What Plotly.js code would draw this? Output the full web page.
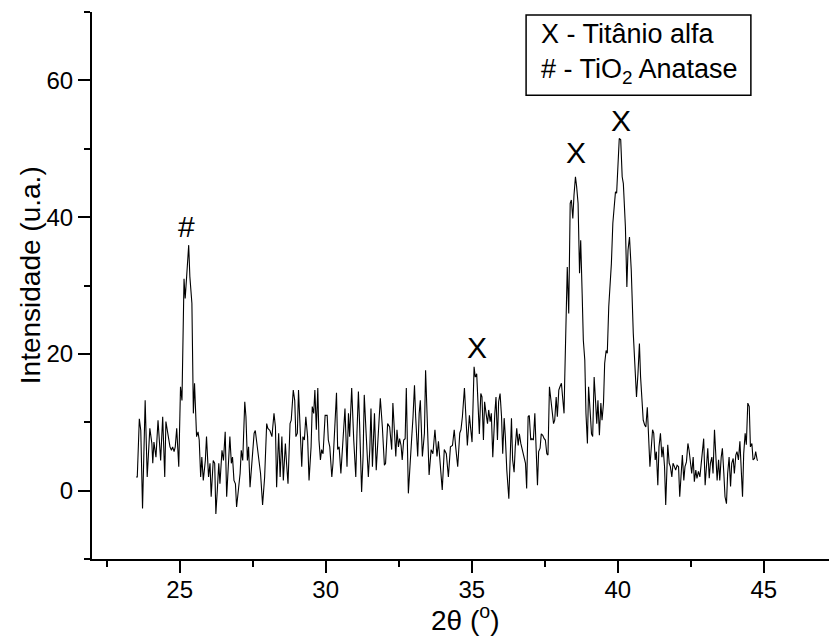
<!DOCTYPE html>
<html><head><meta charset="utf-8">
<script src="https://cdn.plot.ly/plotly-3.0.1.min.js"></script>
<style>html,body{margin:0;padding:0;background:#fff}#chart{width:829px;height:637px}</style>
</head><body><div id="chart"></div>
<script>
// 2θ (degrees) and intensity (u.a.), in four segments
const theta1 = [23.51,23.55,23.62,23.67,23.73,23.82,23.89,23.98,24.05,24.08,
24.12,24.19,24.26,24.30,24.35,24.42,24.49,24.53,24.60,24.67,
24.72,24.76,24.81,24.85,24.90,24.97,25.03,25.08,25.15,25.19,
25.24,25.31,25.35,25.42,25.47,25.51,25.58,25.63,25.67,25.72,
25.76,25.81,25.88,25.92,25.99,26.04,26.08,26.15,26.20,26.24,
26.29,26.34,26.38,26.45,26.50,26.56,26.61,26.68,26.72,26.77,
26.81,26.86,26.91,26.95,27.02,27.07,27.11,27.16,27.23,27.27,
27.32,27.36,27.41,27.48,27.55,27.59,27.66,27.70,27.77,27.84,
27.91,27.98,28.02,28.09,28.16,28.23,28.28,28.32,28.39,28.44,
28.50,28.55,28.62,28.66,28.71,28.78,28.82,28.89,28.94,28.98,
29.03,29.07];
const int1 = [2.0,2.0,10.5,8.8,-2.6,13.2,2.0,9.1,6.9,4.0,
7.1,4.9,10.3,6.9,4.4,10.8,2.0,10.1,7.9,6.4,
5.9,6.4,5.7,6.4,9.1,3.5,15.2,13.2,31.0,28.1,
31.3,35.9,31.3,27.4,11.3,15.7,7.9,8.6,7.4,2.0,
4.9,1.5,4.4,7.9,2.0,4.0,-0.9,4.4,4.0,-3.4,
0.1,4.0,1.0,5.9,4.4,8.6,-0.9,6.4,7.9,4.0,
4.9,1.5,1.0,-2.4,0.5,2.5,5.9,4.4,13.0,10.8,
4.4,6.4,0.5,4.9,8.4,8.8,6.4,4.4,2.5,-2.1,
2.0,9.8,9.1,8.8,7.9,11.3,9.3,0.5,8.4,2.0,
7.9,1.5,6.9,4.0,1.0,9.8,10.3,14.7,13.2,7.9,
8.4,14.7];

const theta2 = [29.18,29.22,29.27,29.32,29.36,29.38,29.43,29.50,29.54,29.59,
29.63,29.68,29.73,29.77,29.82,29.86,29.91,29.98,30.05,30.09,
30.14,30.21,30.25,30.30,30.37,30.41,30.46,30.52,30.57,30.66,
30.73,30.78,30.82,30.89,30.96,31.03,31.07,31.12,31.16,31.23,
31.28,31.32,31.39,31.46,31.51,31.55,31.60,31.67,31.73,31.80,
31.87,31.94,32.01,32.05,32.12,32.19,32.26,32.30,32.35,32.40,
32.44,32.49,32.53,32.58,32.62,32.67,32.72,32.76,32.83,32.90,
32.94,32.99,33.04,33.08,33.15,33.20,33.24,33.31,33.38,33.42,
33.47,33.54,33.61,33.67,33.74,33.81,33.86,33.93,33.99,34.06,
34.13,34.20,34.27,34.34,34.40,34.45,34.52,34.59,34.63,34.68,
34.75];
const int2 = [3.5,7.9,7.4,10.8,8.9,7.9,1.5,6.4,12.3,11.3,
14.7,8.9,15.0,7.4,4.5,6.0,5.4,11.0,11.0,7.4,
6.4,2.0,4.0,9.3,14.3,6.0,6.4,2.5,6.4,12.0,
3.5,11.3,7.9,15.0,7.4,2.0,8.4,14.5,9.8,-0.2,
5.0,14.0,7.9,2.0,6.0,12.0,3.5,11.3,3.0,7.9,
13.5,9.3,3.7,4.0,9.8,9.3,6.0,12.8,9.3,5.0,
8.9,6.4,7.6,6.6,4.5,7.4,7.6,15.0,-0.4,6.0,
7.4,10.8,15.4,10.8,5.0,11.3,13.2,5.0,8.4,17.6,
10.8,2.3,6.0,5.4,8.9,5.0,7.2,3.5,0.1,6.0,
5.4,2.0,6.4,6.6,8.9,6.4,3.5,8.4,8.9,10.8,
15.0];

const theta3 = [34.85,34.92,34.97,35.01,35.08,35.12,35.17,35.22,35.26,35.31,
35.35,35.40,35.44,35.49,35.54,35.58,35.63,35.67,35.72,35.79,
35.83,35.88,35.92,35.97,36.02,36.06,36.11,36.15,36.20,36.27,
36.31,36.36,36.40,36.45,36.49,36.54,36.59,36.63,36.68,36.72,
36.79,36.84,36.88,36.93,36.97,37.02,37.06,37.11,37.16,37.20,
37.25,37.29,37.34,37.38,37.43,37.48,37.52,37.57,37.61,37.66,
37.70,37.75,37.80,37.84,37.89,37.93,37.98,38.02,38.07,38.11,
38.16,38.18,38.23,38.27,38.32,38.37,38.41,38.46,38.50,38.55,
38.59,38.64,38.69,38.73,38.78,38.82,38.87,38.91,38.96,39.00,
39.05,39.10,39.14,39.19,39.23,39.28,39.32,39.37,39.42,39.46,
39.51,39.55,39.60,39.64,39.69,39.74,39.78,39.83,39.87,39.92,
39.96,40.01,40.05,40.10,40.15,40.19,40.26,40.31,40.35,40.40];
const int3 = [6.6,11.0,8.8,7.1,18.1,16.6,17.1,12.5,8.3,14.2,
13.7,7.4,13.0,11.3,9.8,11.8,10.1,11.3,4.9,11.3,
13.7,7.4,13.0,14.2,10.8,5.4,10.6,7.9,3.0,-1.2,
3.5,10.6,4.5,2.7,6.4,9.1,6.6,8.3,6.9,6.2,
4.9,4.0,0.3,10.8,11.0,7.4,7.6,7.4,11.3,5.4,
0.8,5.7,6.2,8.3,8.1,7.6,7.4,5.4,5.2,15.2,
13.7,11.3,9.8,10.3,13.7,10.8,14.7,15.2,15.7,13.7,
11.3,15.7,26.9,32.7,25.9,42.0,42.5,39.8,43.2,45.9,
44.5,42.0,31.8,36.6,28.8,22.0,19.1,11.3,6.9,15.2,
11.8,8.3,7.9,16.6,13.7,9.8,13.2,8.1,12.8,10.3,
12.8,18.6,20.5,20.1,26.9,29.8,33.2,39.1,41.5,43.7,
43.5,47.9,51.5,51.3,45.9,44.9,38.6,29.8,35.2,37.1];

const theta4 = [40.46,40.53,40.58,40.62,40.64,40.69,40.74,40.78,40.83,40.87,
40.92,40.96,41.01,41.05,41.10,
41.19,41.23,41.28,41.32,41.37,41.41,41.46,41.51,41.55,41.60,
41.64,41.71,41.76,41.80,41.85,41.89,41.94,41.98,42.03,42.08,
42.12,42.17,42.21,42.26,42.30,42.35,42.40,42.44,42.49,42.53,
42.58,42.62,42.67,42.71,42.76,42.81,42.85,42.90,42.94,42.99,
43.03,43.08,43.13,43.17,43.22,43.26,43.31,43.35,43.40,43.45,
43.49,43.54,43.58,43.63,43.67,43.72,43.76,43.81,43.86,43.90,
43.95,43.99,44.04,44.08,44.13,44.18,44.22,44.27,44.31,44.36,
44.40,44.45,44.50,44.54,44.59,44.63,44.68,44.72,44.77,44.79];
const int4 = [32.3,23.0,18.1,16.6,13.7,17.1,21.5,16.6,12.7,10.3,
9.6,9.3,12.2,8.4,3.5,
8.9,8.4,4.5,5.7,0.8,6.4,8.4,4.9,6.4,3.5,
-2.1,6.7,4.0,3.5,2.0,4.0,3.5,3.0,3.7,3.5,
-0.9,2.5,5.2,1.5,3.5,4.2,6.9,5.9,3.5,2.5,
4.9,1.3,3.0,1.8,2.8,2.0,3.7,5.9,7.6,0.8,
3.0,6.2,1.8,4.0,4.9,2.5,8.9,5.4,1.5,4.5,
1.5,4.9,6.2,2.5,-0.9,-1.9,2.5,4.9,0.6,4.0,
4.7,2.5,5.2,5.7,4.5,7.2,4.0,-0.9,5.4,8.4,
6.7,12.8,12.3,6.4,6.9,4.5,4.7,5.7,4.5,4.4];

// Phase markers, legend and axis title text
const peakLabels = ['#', 'X', 'X', 'X'];
const peakTheta = [25.22, 35.18, 38.57, 40.11];
const peakLabelY = [38.6, 20.9, 49.4, 54.2];
const legendLines = ['X - Titânio alfa', '# - TiO<sub>2</sub> Anatase'];
const xTitle = '2θ (<sup>o</sup>)';
const yTitle = 'Intensidade (u.a.)';

const theta = theta1.concat(theta2, theta3, theta4);
const intensity = int1.concat(int2, int3, int4);

const FONT = 'Liberation Sans, Arial, Helvetica, sans-serif';

const trace = {
  x: theta, y: intensity, type: 'scatter', mode: 'lines',
  line: {color: '#000000', width: 1.1}, hoverinfo: 'skip'
};

const annotations = peakLabels.map((t, i) => ({
  text: t, x: peakTheta[i], y: peakLabelY[i], xref: 'x', yref: 'y',
  showarrow: false, xanchor: 'center', yanchor: 'middle',
  font: {family: FONT, size: 30, color: '#000'}
}));
annotations.push({
  text: legendLines[0], xref: 'paper', yref: 'paper', x: 0.6065, y: 0.959,
  xanchor: 'left', yanchor: 'middle', showarrow: false,
  font: {family: FONT, size: 27, color: '#000'}
});
annotations.push({
  text: legendLines[1], xref: 'paper', yref: 'paper', x: 0.6065, y: 0.893,
  xanchor: 'left', yanchor: 'middle', showarrow: false,
  font: {family: FONT, size: 27, color: '#000'}
});
// axis titles placed as annotations for exact positioning
annotations.push({
  text: xTitle, xref: 'paper', yref: 'paper', x: 0.506, y: -0.108,
  xanchor: 'center', yanchor: 'middle', showarrow: false, borderpad: 0,
  font: {family: FONT, size: 28, color: '#000'}
});
annotations.push({
  text: yTitle, xref: 'paper', yref: 'paper', x: -0.084, y: 0.519,
  xanchor: 'center', yanchor: 'middle', textangle: -90, showarrow: false,
  font: {family: FONT, size: 28, color: '#000'}
});

const layout = {
  width: 829, height: 637,
  margin: {l: 92, r: 0, t: 12, b: 78, pad: 0},
  paper_bgcolor: '#ffffff', plot_bgcolor: '#ffffff',
  showlegend: false,
  font: {family: FONT, color: '#000'},
  xaxis: {
    range: [22, 47.23], tick0: 25, dtick: 5,
    ticks: 'outside', ticklen: 12, tickwidth: 2, tickcolor: '#000',
    ticklabelstandoff: -4,
    showline: true, linewidth: 2, linecolor: '#000',
    showgrid: false, zeroline: false,
    tickfont: {family: FONT, size: 24, color: '#000'},
    minor: {tick0: 22.5, dtick: 2.5, ticks: 'outside', ticklen: 6, tickwidth: 2, tickcolor: '#000', showgrid: false}
  },
  yaxis: {
    range: [-10, 70], tick0: 0, dtick: 20,
    ticks: 'outside', ticklen: 12, tickwidth: 2, tickcolor: '#000',
    showline: true, linewidth: 2, linecolor: '#000',
    showgrid: false, zeroline: false,
    tickfont: {family: FONT, size: 24, color: '#000'},
    minor: {tick0: -10, dtick: 10, ticks: 'outside', ticklen: 6, tickwidth: 2, tickcolor: '#000', showgrid: false}
  },
  shapes: [{
    type: 'rect', xref: 'paper', yref: 'paper',
    x0: 0.589, x1: 0.894, y0: 0.848, y1: 0.9945,
    line: {color: '#000', width: 1.5}, fillcolor: 'rgba(0,0,0,0)'
  }],
  annotations: annotations
};

Plotly.newPlot('chart', [trace], layout, {staticPlot: true, displayModeBar: false});
</script>
</body></html>
